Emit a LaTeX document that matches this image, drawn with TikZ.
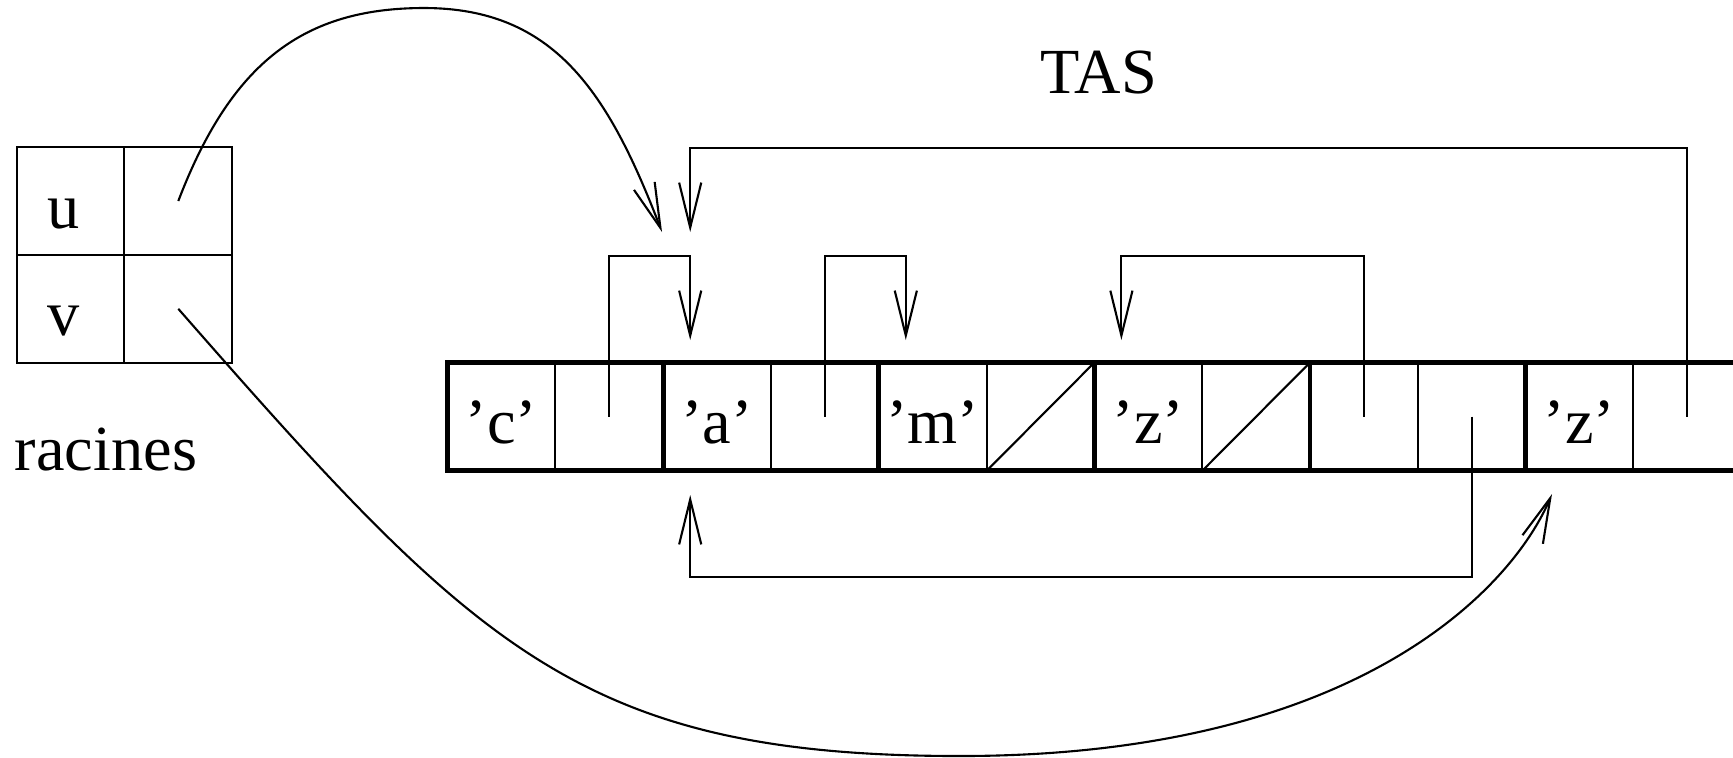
\documentclass[tikz,border=0pt]{standalone}
\usepackage{fontspec}
\setmainfont{Liberation Serif}
\usetikzlibrary{arrows.meta}
\begin{document}
\begin{tikzpicture}[x=0.1mm,y=-0.1mm,
  font=\fontsize{18.3}{20}\selectfont,
  thinline/.style={line width=0.6pt},
  thickline/.style={line width=1.35pt},
  cellbox/.style={draw, line width=0.6pt, minimum width=10.78mm, minimum height=10.83mm, inner sep=0pt, outer sep=0pt},
  rbox/.style={draw, line width=0.6pt, minimum width=10.78mm, minimum height=10.78mm, inner sep=0pt, outer sep=0pt},
  ptr/.style={line width=0.6pt, line join=miter, -{Straight Barb[length=12.8pt,width=6.3pt,line width=0.6pt]}},
  lbl/.style={anchor=base, inner sep=0pt, outer sep=0pt}]
\clip (0,0) rectangle (1733,757);
\fill[white] (0,0) rectangle (1733,757);

% racines table
\node[rbox] (ru) at (70.5,201) {};
\node[rbox] (rup) at (178.3,201) {};
\node[rbox] (rv) at (70.5,308.8) {};
\node[rbox] (rvp) at (178.3,308.8) {};
\node[lbl] (lu) at (64,228) {u};
\node[lbl] (lv) at (64,335) {v};
\node[lbl, anchor=base west] (racines) at (15,470) {racines};

% TAS label
\node[lbl] (tas) at (1099,93.3) {TAS};

% array cells
\foreach \k in {0,...,11}{
  \node[cellbox] (a\k) at ({501.5+107.8*\k},416.65) {};
}
\draw[thickline] (a0.south west) rectangle (a11.north east);
\foreach \k in {2,4,6,8,10}{
  \draw[thickline] (a\k.north west) -- (a\k.south west);
}
\draw[thinline] (a5.south west) -- (a5.north east);
\draw[thinline] (a7.south west) -- (a7.north east);

% cell labels
\node[lbl] (lc) at (a0 |- 0,443) {’c’};
\node[lbl] (la) at (a2 |- 0,443) {’a’};
\node[lbl] (lm) at (a4 |- 0,443) {’m’};
\node[lbl] (lz) at (a6 |- 0,443) {’z’};
\node[lbl] (lz2) at (a10 |- 0,443) {’z’};

% rails and targets
\coordinate (railA) at (0,256);
\coordinate (railTop) at (0,148);
\coordinate (railBot) at (0,577);
\coordinate (tipA) at (690.2,340);
\coordinate (tipM) at (905.8,340);
\coordinate (tipZ) at (1121.4,340);
\coordinate (tipAtop) at (690.2,232);
\coordinate (tipAbot) at (690.2,495);
\coordinate (tipU) at (662,232);
\coordinate (tipZ2) at (1552,494);

% pointers
\draw[ptr] (a1.center) |- (tipA |- railA) -- (tipA);
\draw[ptr] (a3.center) |- (tipM |- railA) -- (tipM);
\draw[ptr] (a8.center) |- (tipZ |- railA) -- (tipZ);
\draw[ptr] (a9.center) |- (tipAbot |- railBot) -- (tipAbot);
\draw[ptr] (a11.center) |- (tipAtop |- railTop) -- (tipAtop);

% curved pointers from racines
\draw[ptr] (rup.center) .. controls (231.5,62) and (304,8) .. (424,8)
  .. controls (554,8) and (608.3,91.9) .. (tipU);
\draw[ptr] (rvp.center) .. controls (475,647.5) and (580,756) .. (960,756)
  .. controls (1360,756) and (1513,586) .. (tipZ2);
\end{tikzpicture}
\end{document}
